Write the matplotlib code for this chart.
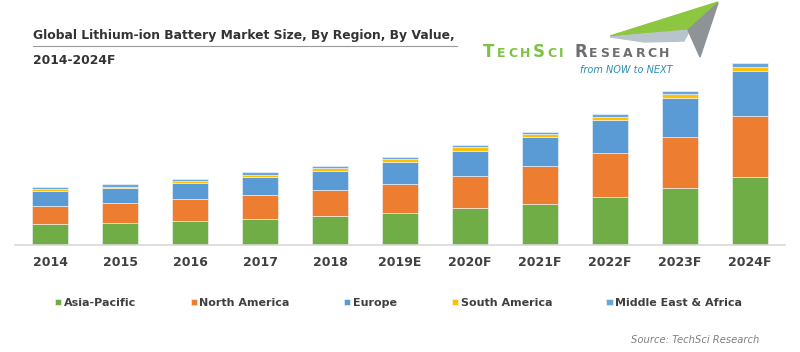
import matplotlib
matplotlib.use("Agg")
import matplotlib.pyplot as plt
from matplotlib.patches import Polygon
import numpy as np

years = ["2014", "2015", "2016", "2017", "2018", "2019E", "2020F",
         "2021F", "2022F", "2023F", "2024F"]
regions = ["Asia-Pacific", "North America", "Europe", "South America",
           "Middle East & Africa"]
colors = ["#70AD47", "#ED7D31", "#5B9BD5", "#FFC000", "#6AA6DC"]

# values (no value axis shown, arbitrary units)
asia_pacific = [21.0, 22.0, 24.0, 25.6, 29.0, 32.3, 36.7, 41.3, 48.3, 56.7, 67.7]
north_america = [18.3, 19.7, 21.6, 24.4, 25.7, 28.7, 32.0, 37.7, 43.4, 51.0, 61.0]
europe = [14.7, 15.0, 16.4, 17.6, 19.3, 22.0, 25.3, 29.0, 33.3, 39.0, 45.6]
south_america = [2.0, 1.6, 1.6, 2.0, 2.7, 3.0, 3.7, 3.0, 3.3, 4.0, 4.0]
middle_east_africa = [1.7, 2.7, 2.4, 3.0, 2.3, 2.3, 2.0, 2.3, 2.7, 3.0, 4.0]

series = [asia_pacific, north_america, europe, south_america, middle_east_africa]

fig = plt.figure(figsize=(8, 3.52), dpi=100)
ax = fig.add_axes([15 / 800, 107 / 352, 770 / 800, 185 / 352])

x = np.arange(len(years))
bottom = np.zeros(len(years))
handles = []
for name, vals, c in zip(regions, series, colors):
    b = ax.bar(x, vals, width=0.51, bottom=bottom, color=c, label=name,
               edgecolor="#f4f8fb", linewidth=0.4)
    handles.append(b)
    bottom += np.array(vals)

ax.set_xlim(-0.5, 10.5)
ax.set_ylim(0, 185)
ax.set_xticks(x)
ax.set_xticklabels(years, fontsize=9, fontweight="bold", color="#404040")
ax.tick_params(axis="x", length=0, pad=8)
ax.set_yticks([])
for s in ["top", "left", "right"]:
    ax.spines[s].set_visible(False)
ax.spines["bottom"].set_color("#d9d9d9")
ax.spines["bottom"].set_linewidth(1.2)

leg = fig.legend(handles=handles, labels=regions, loc="center left",
                 bbox_to_anchor=(55 / 800, 49 / 352), ncol=5, frameon=False,
                 borderpad=0, borderaxespad=0, handlelength=0.55,
                 handleheight=0.55, handletextpad=0.25, columnspacing=4.9,
                 prop={"size": 8, "weight": "bold"})
for t in leg.get_texts():
    t.set_color("#404040")

# title
fig.text(33 / 800, 1 - 35 / 352, "Global Lithium-ion Battery Market Size, By Region, By Value,",
         fontsize=8.9, fontweight="bold", color="#333333", va="center", ha="left")
fig.text(33 / 800, 1 - 60 / 352, "2014-2024F",
         fontsize=8.9, fontweight="bold", color="#333333", va="center", ha="left")
fig.add_artist(plt.Line2D([33 / 800, 457 / 800], [1 - 45.5 / 352, 1 - 45.5 / 352],
                          color="#9a9a9a", linewidth=0.8))

# logo
def px(xp, yp):
    return (xp / 800, 1 - yp / 352)

fig.add_artist(Polygon([px(610, 36), px(718, 2), px(704, 22), px(690, 30), px(645, 33)],
                       closed=True, color="#8DC63F", transform=fig.transFigure))
fig.add_artist(Polygon([px(610, 37), px(690, 30), px(684, 41), px(645, 42)],
                       closed=True, color="#b9c3cc", transform=fig.transFigure))
fig.add_artist(Polygon([px(688, 30), px(718, 3), px(700, 57)],
                       closed=True, color="#8e9398", transform=fig.transFigure))

renderer = fig.canvas.get_renderer()


def small_caps(xp, yp, word, color, big=12.0, small=9.0, track=2.6):
    cur = xp
    for ch in word:
        size = big if ch.isupper() else small
        t = fig.text(cur / 800, 1 - yp / 352, ch.upper(), fontsize=size,
                     fontweight="bold", color=color, ha="left", va="baseline")
        w = t.get_window_extent(renderer).width
        cur += w + track
    return cur


small_caps(483, 57, "TechSci", "#7DC242")
small_caps(574, 57, "Research", "#6d6e71")
fig.text(580 / 800, 1 - 70 / 352, "from NOW to NEXT", fontsize=7.0,
         style="italic", color="#2B8FB0", ha="left", va="center")

fig.text(759 / 800, 1 - 340 / 352, "Source: TechSci Research", fontsize=7.2,
         style="italic", color="#808080", ha="right", va="center")

fig.savefig("out.png", dpi=100)
